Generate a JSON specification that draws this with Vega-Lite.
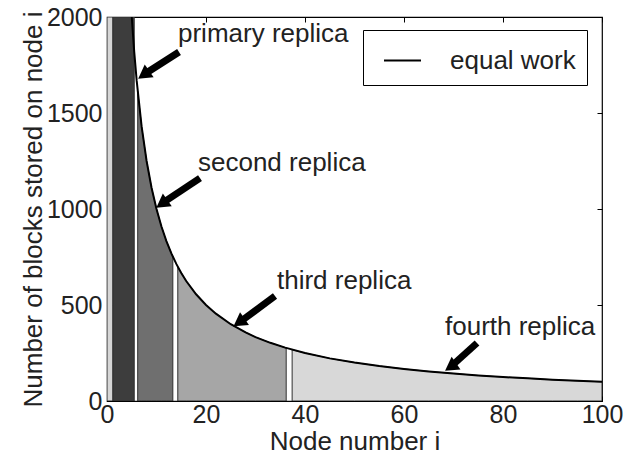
{
  "$schema": "https://vega.github.io/schema/vega-lite/v6.json",
  "autosize": {"type": "none"},
  "width": 495,
  "height": 384,
  "padding": {"left": 107, "top": 17, "right": 21, "bottom": 54},
  "background": "white",
  "config": {
    "font": "Liberation Sans",
    "view": {"stroke": "black", "strokeWidth": 1.2},
    "axis": {"domainColor": "black", "tickColor": "black", "labelColor": "#222", "titleColor": "#222", "labelFontSize": 25, "titleFontSize": 26, "titleFontWeight": "normal", "grid": false, "zindex": 1, "labelFlush": false, "tickSize": -5}
  },
  "datasets": {
    "regions": [
      {"region": "edge", "i": 0, "blocks": 2000},
      {"region": "edge", "i": 1.2, "blocks": 2000},
      {"region": "primary", "i": 1.2, "blocks": 2000},
      {"region": "primary", "i": 5.5, "blocks": 2000},
      {"region": "second", "i": 6.2, "blocks": 1613},
      {"region": "second", "i": 7, "blocks": 1429},
      {"region": "second", "i": 8, "blocks": 1250},
      {"region": "second", "i": 9, "blocks": 1111},
      {"region": "second", "i": 10, "blocks": 1000},
      {"region": "second", "i": 11, "blocks": 909},
      {"region": "second", "i": 12, "blocks": 833},
      {"region": "second", "i": 13.3, "blocks": 752},
      {"region": "third", "i": 14.3, "blocks": 699},
      {"region": "third", "i": 16, "blocks": 625},
      {"region": "third", "i": 18, "blocks": 556},
      {"region": "third", "i": 20, "blocks": 500},
      {"region": "third", "i": 22, "blocks": 455},
      {"region": "third", "i": 25, "blocks": 400},
      {"region": "third", "i": 28, "blocks": 357},
      {"region": "third", "i": 30, "blocks": 333},
      {"region": "third", "i": 33, "blocks": 303},
      {"region": "third", "i": 36.2, "blocks": 276},
      {"region": "fourth", "i": 37.4, "blocks": 267},
      {"region": "fourth", "i": 40, "blocks": 250},
      {"region": "fourth", "i": 45, "blocks": 222},
      {"region": "fourth", "i": 50, "blocks": 200},
      {"region": "fourth", "i": 55, "blocks": 182},
      {"region": "fourth", "i": 60, "blocks": 167},
      {"region": "fourth", "i": 65, "blocks": 154},
      {"region": "fourth", "i": 70, "blocks": 143},
      {"region": "fourth", "i": 75, "blocks": 133},
      {"region": "fourth", "i": 80, "blocks": 125},
      {"region": "fourth", "i": 85, "blocks": 118},
      {"region": "fourth", "i": 90, "blocks": 111},
      {"region": "fourth", "i": 95, "blocks": 105},
      {"region": "fourth", "i": 100, "blocks": 100}
    ],
    "curve": [
      {"i": 5, "blocks": 2000}, {"i": 5.5, "blocks": 1818}, {"i": 6, "blocks": 1667},
      {"i": 7, "blocks": 1429}, {"i": 8, "blocks": 1250}, {"i": 9, "blocks": 1111},
      {"i": 10, "blocks": 1000}, {"i": 11, "blocks": 909}, {"i": 12, "blocks": 833},
      {"i": 13, "blocks": 769}, {"i": 14, "blocks": 714}, {"i": 15, "blocks": 667},
      {"i": 16, "blocks": 625}, {"i": 18, "blocks": 556}, {"i": 20, "blocks": 500},
      {"i": 22, "blocks": 455}, {"i": 25, "blocks": 400}, {"i": 28, "blocks": 357},
      {"i": 30, "blocks": 333}, {"i": 33, "blocks": 303}, {"i": 36, "blocks": 278},
      {"i": 40, "blocks": 250}, {"i": 45, "blocks": 222}, {"i": 50, "blocks": 200},
      {"i": 55, "blocks": 182}, {"i": 60, "blocks": 167}, {"i": 65, "blocks": 154},
      {"i": 70, "blocks": 143}, {"i": 75, "blocks": 133}, {"i": 80, "blocks": 125},
      {"i": 85, "blocks": 118}, {"i": 90, "blocks": 111}, {"i": 95, "blocks": 105},
      {"i": 100, "blocks": 100}
    ],
    "arrows": [
      {"label": "primary replica", "tx": 14.55, "ty": 1818, "sx": 8.08, "sy": 1711, "hx": 7.41, "hy": 1699, "lx": 14.34, "ly": 1911},
      {"label": "second replica", "tx": 18.79, "ty": 1161, "sx": 11.56, "sy": 1037, "hx": 11.07, "hy": 1027, "lx": 18.38, "ly": 1240},
      {"label": "third replica", "tx": 33.94, "ty": 547, "sx": 27.25, "sy": 419, "hx": 26.67, "hy": 409, "lx": 34.34, "ly": 625},
      {"label": "fourth replica", "tx": 74.75, "ty": 302, "sx": 69.94, "sy": 190, "hx": 69.41, "hy": 177, "lx": 68.28, "ly": 385}
    ]
  },
  "resolve": {"axis": {"x": "independent", "y": "independent"}},
  "layer": [
    {
      "layer": [
        {
          "data": {"name": "regions"},
          "mark": {"type": "area", "stroke": "#303030", "strokeWidth": 1, "clip": true},
          "encoding": {
            "x": {"field": "i", "type": "quantitative", "scale": {"domain": [0, 100], "nice": false},
              "axis": {"values": [0, 20, 40, 60, 80, 100], "format": "d", "title": "Node number i", "labelPadding": 6, "titlePadding": 1}},
            "y": {"field": "blocks", "type": "quantitative", "stack": null, "scale": {"domain": [0, 2000], "nice": false},
              "axis": {"values": [0, 500, 1000, 1500, 2000], "format": "d", "title": "Number of blocks stored on node i", "labelPadding": 10, "titlePadding": 0}},
            "fill": {"field": "region", "type": "nominal", "legend": null,
              "scale": {"domain": ["edge", "primary", "second", "third", "fourth"], "range": ["#d6d6d6", "#3d3d3d", "#6f6f6f", "#a6a6a6", "#d8d8d8"]}},
            "detail": {"field": "region"}
          }
        },
        {
          "data": {"name": "curve"},
          "mark": {"type": "line", "strokeWidth": 2, "clip": true},
          "encoding": {
            "x": {"field": "i", "type": "quantitative"},
            "y": {"field": "blocks", "type": "quantitative"},
            "stroke": {"datum": "equal work", "type": "nominal",
              "scale": {"range": ["black"]},
              "legend": {"title": null, "orient": "none", "legendX": 256, "legendY": 13,
                "strokeColor": "black", "fillColor": "white", "padding": 11,
                "symbolType": "stroke", "symbolSize": 1369, "symbolStrokeWidth": 2,
                "symbolOffset": 9, "labelOffset": 28, "labelFontSize": 26, "labelColor": "#222", "labelLimit": 300}}
          }
        },
        {
          "data": {"name": "arrows"},
          "mark": {"type": "rule", "strokeWidth": 7, "color": "black", "strokeCap": "butt"},
          "encoding": {
            "x": {"field": "tx", "type": "quantitative"},
            "y": {"field": "ty", "type": "quantitative"},
            "x2": {"field": "sx"},
            "y2": {"field": "sy"}
          }
        },
        {
          "data": {"name": "arrows"},
          "mark": {"type": "point", "shape": "triangle-up", "filled": true, "color": "black", "size": 240, "angle": 235, "opacity": 1},
          "encoding": {
            "x": {"field": "hx", "type": "quantitative"},
            "y": {"field": "hy", "type": "quantitative"}
          }
        },
        {
          "data": {"name": "arrows"},
          "mark": {"type": "text", "align": "left", "baseline": "middle", "fontSize": 26, "color": "#222"},
          "encoding": {
            "x": {"field": "lx", "type": "quantitative"},
            "y": {"field": "ly", "type": "quantitative"},
            "text": {"field": "label"}
          }
        }
      ]
    },
    {
      "data": {"name": "arrows"},
      "mark": {"type": "point", "opacity": 0},
      "encoding": {
        "x": {"field": "hx", "type": "quantitative",
          "axis": {"orient": "top", "values": [0, 20, 40, 60, 80, 100], "labels": false, "title": null, "domain": false}},
        "y": {"field": "hy", "type": "quantitative",
          "axis": {"orient": "right", "values": [0, 500, 1000, 1500, 2000], "labels": false, "title": null, "domain": false}}
      }
    }
  ]
}
